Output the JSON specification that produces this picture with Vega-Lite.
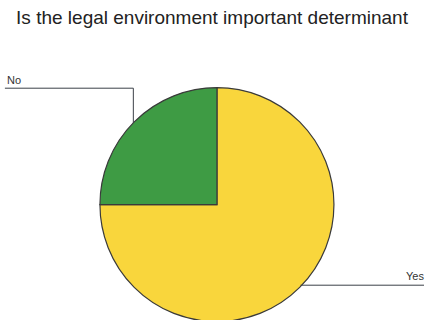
{
  "$schema": "https://vega.github.io/schema/vega-lite/v6.json",
  "width": 426,
  "height": 320,
  "autosize": {"type": "fit", "contains": "padding"},
  "padding": {"top": 9, "left": 0, "right": 0, "bottom": 0},
  "background": "white",
  "title": {"text": "Is the legal environment important determinant", "font": "Liberation Sans", "fontSize": 19, "fontWeight": "normal", "color": "#222222", "anchor": "middle", "offset": 12},
  "config": {"view": {"stroke": null}},
  "layer": [
    {
      "data": {"values": [
        {"answer": "Yes", "share": 75, "ord": 1, "cx": 0, "cy": 0},
        {"answer": "No", "share": 25, "ord": 2, "cx": 0, "cy": 0}
      ]},
      "mark": {"type": "arc", "outerRadius": 117, "stroke": "#3a3a3a", "strokeWidth": 1.2},
      "encoding": {
        "theta": {"field": "share", "type": "quantitative", "stack": true},
        "order": {"field": "ord", "type": "quantitative"},
        "x": {"field": "cx", "type": "quantitative", "scale": {"domain": [-1.863, 1.778], "nice": false, "zero": false}, "axis": null},
        "y": {"field": "cy", "type": "quantitative", "scale": {"domain": [-0.991, 1.414], "nice": false, "zero": false}, "axis": null},
        "color": {"field": "answer", "type": "nominal", "scale": {"domain": ["Yes", "No"], "range": ["#f9d63c", "#3e9b44"]}, "legend": null}
      }
    },
    {
      "data": {"values": [
        {"label": "No", "seq": 1, "lx": -1.821, "ly": 1.0},
        {"label": "No", "seq": 2, "lx": -0.718, "ly": 1.0},
        {"label": "No", "seq": 3, "lx": -0.718, "ly": 0.701},
        {"label": "Yes", "seq": 1, "lx": 0.718, "ly": -0.692},
        {"label": "Yes", "seq": 2, "lx": 1.778, "ly": -0.692}
      ]},
      "mark": {"type": "line", "color": "#3b4048", "strokeWidth": 1},
      "encoding": {
        "x": {"field": "lx", "type": "quantitative"},
        "y": {"field": "ly", "type": "quantitative"},
        "detail": {"field": "label"},
        "order": {"field": "seq"}
      }
    },
    {
      "data": {"values": [
        {"label": "No", "tx": -1.803, "ty": 1.034}
      ]},
      "mark": {"type": "text", "font": "Liberation Sans", "fontSize": 11, "align": "left", "baseline": "alphabetic", "color": "#333333"},
      "encoding": {
        "x": {"field": "tx", "type": "quantitative"},
        "y": {"field": "ty", "type": "quantitative"},
        "text": {"field": "label"}
      }
    },
    {
      "data": {"values": [
        {"label": "Yes", "tx": 1.778, "ty": -0.65}
      ]},
      "mark": {"type": "text", "font": "Liberation Sans", "fontSize": 11, "align": "right", "baseline": "alphabetic", "color": "#333333"},
      "encoding": {
        "x": {"field": "tx", "type": "quantitative"},
        "y": {"field": "ty", "type": "quantitative"},
        "text": {"field": "label"}
      }
    }
  ]
}
